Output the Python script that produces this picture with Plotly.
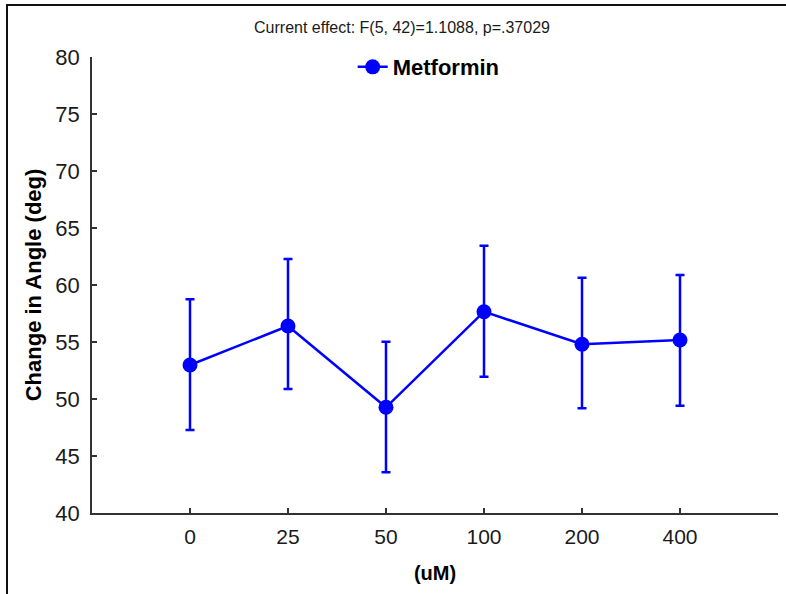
import plotly.graph_objects as go

doses = ["0", "25", "50", "100", "200", "400"]
means = [52.98, 56.40, 49.27, 57.66, 54.80, 55.18]
upper = [58.75, 62.28, 55.03, 63.45, 60.64, 60.88]
lower = [47.28, 50.88, 43.57, 51.96, 49.18, 49.41]
y_ticks = [40, 45, 50, 55, 60, 65, 70, 75, 80]

x_idx = list(range(len(doses)))
err_plus = [u - m for u, m in zip(upper, means)]
err_minus = [m - l for m, l in zip(means, lower)]

BLUE = "#0000ff"
FONT = "Liberation Sans, Arial, sans-serif"

fig = go.Figure()
fig.add_trace(go.Scatter(
    x=x_idx, y=means, mode="lines+markers", name="<b>Metformin</b>",
    line=dict(color=BLUE, width=2.5),
    marker=dict(color=BLUE, size=15),
    error_y=dict(type="data", symmetric=False, array=err_plus, arrayminus=err_minus,
                 color=BLUE, thickness=2.5, width=4.5),
))

fig.update_layout(
    width=786, height=594,
    margin=dict(l=92, r=8, t=57, b=81),
    paper_bgcolor="white", plot_bgcolor="white",
    font=dict(family=FONT, color="#1a1a1a", size=21),
    title=dict(text="Current effect: F(5, 42)=1.1088, p=.37029",
               x=402 / 786, xanchor="center", y=1 - 27 / 594, yanchor="middle",
               font=dict(size=16, family=FONT, color="#1a1a1a")),
    showlegend=True,
    legend=dict(x=0.380, xanchor="left", y=0.978, yanchor="middle",
                bgcolor="rgba(0,0,0,0)", font=dict(size=22, family=FONT, color="#000")),
    xaxis=dict(
        range=[-1, 6], tickmode="array",
        tickvals=x_idx + [len(doses)], ticktext=doses + [""],
        showline=True, linecolor="#333", linewidth=1.5,
        ticks="inside", ticklen=5, tickcolor="#333", tickwidth=1.5,
        ticklabelstandoff=4,
        showgrid=False, zeroline=False,
        tickfont=dict(size=21, color="#1a1a1a"),
        title=dict(text="<b>(uM)</b>", font=dict(size=20, color="#000"), standoff=19),
    ),
    yaxis=dict(
        range=[40, 80], tickmode="array", tickvals=y_ticks,
        showline=True, linecolor="#333", linewidth=1.5,
        ticks="inside", ticklen=5, tickcolor="#333", tickwidth=1.5,
        ticklabelstandoff=6,
        showgrid=False, zeroline=False,
        tickfont=dict(size=22, color="#1a1a1a"),
        title=dict(text="<b>Change in Angle (deg)</b>", font=dict(size=22, color="#000"), standoff=8),
    ),
    shapes=[dict(type="rect", xref="paper", yref="paper",
                 x0=(7 - 92) / 686, x1=1.2, y0=-0.5, y1=(513 - 5) / 456,
                 line=dict(color="#111", width=2), fillcolor="rgba(0,0,0,0)", layer="above")],
)

fig.write_html("out.html")
